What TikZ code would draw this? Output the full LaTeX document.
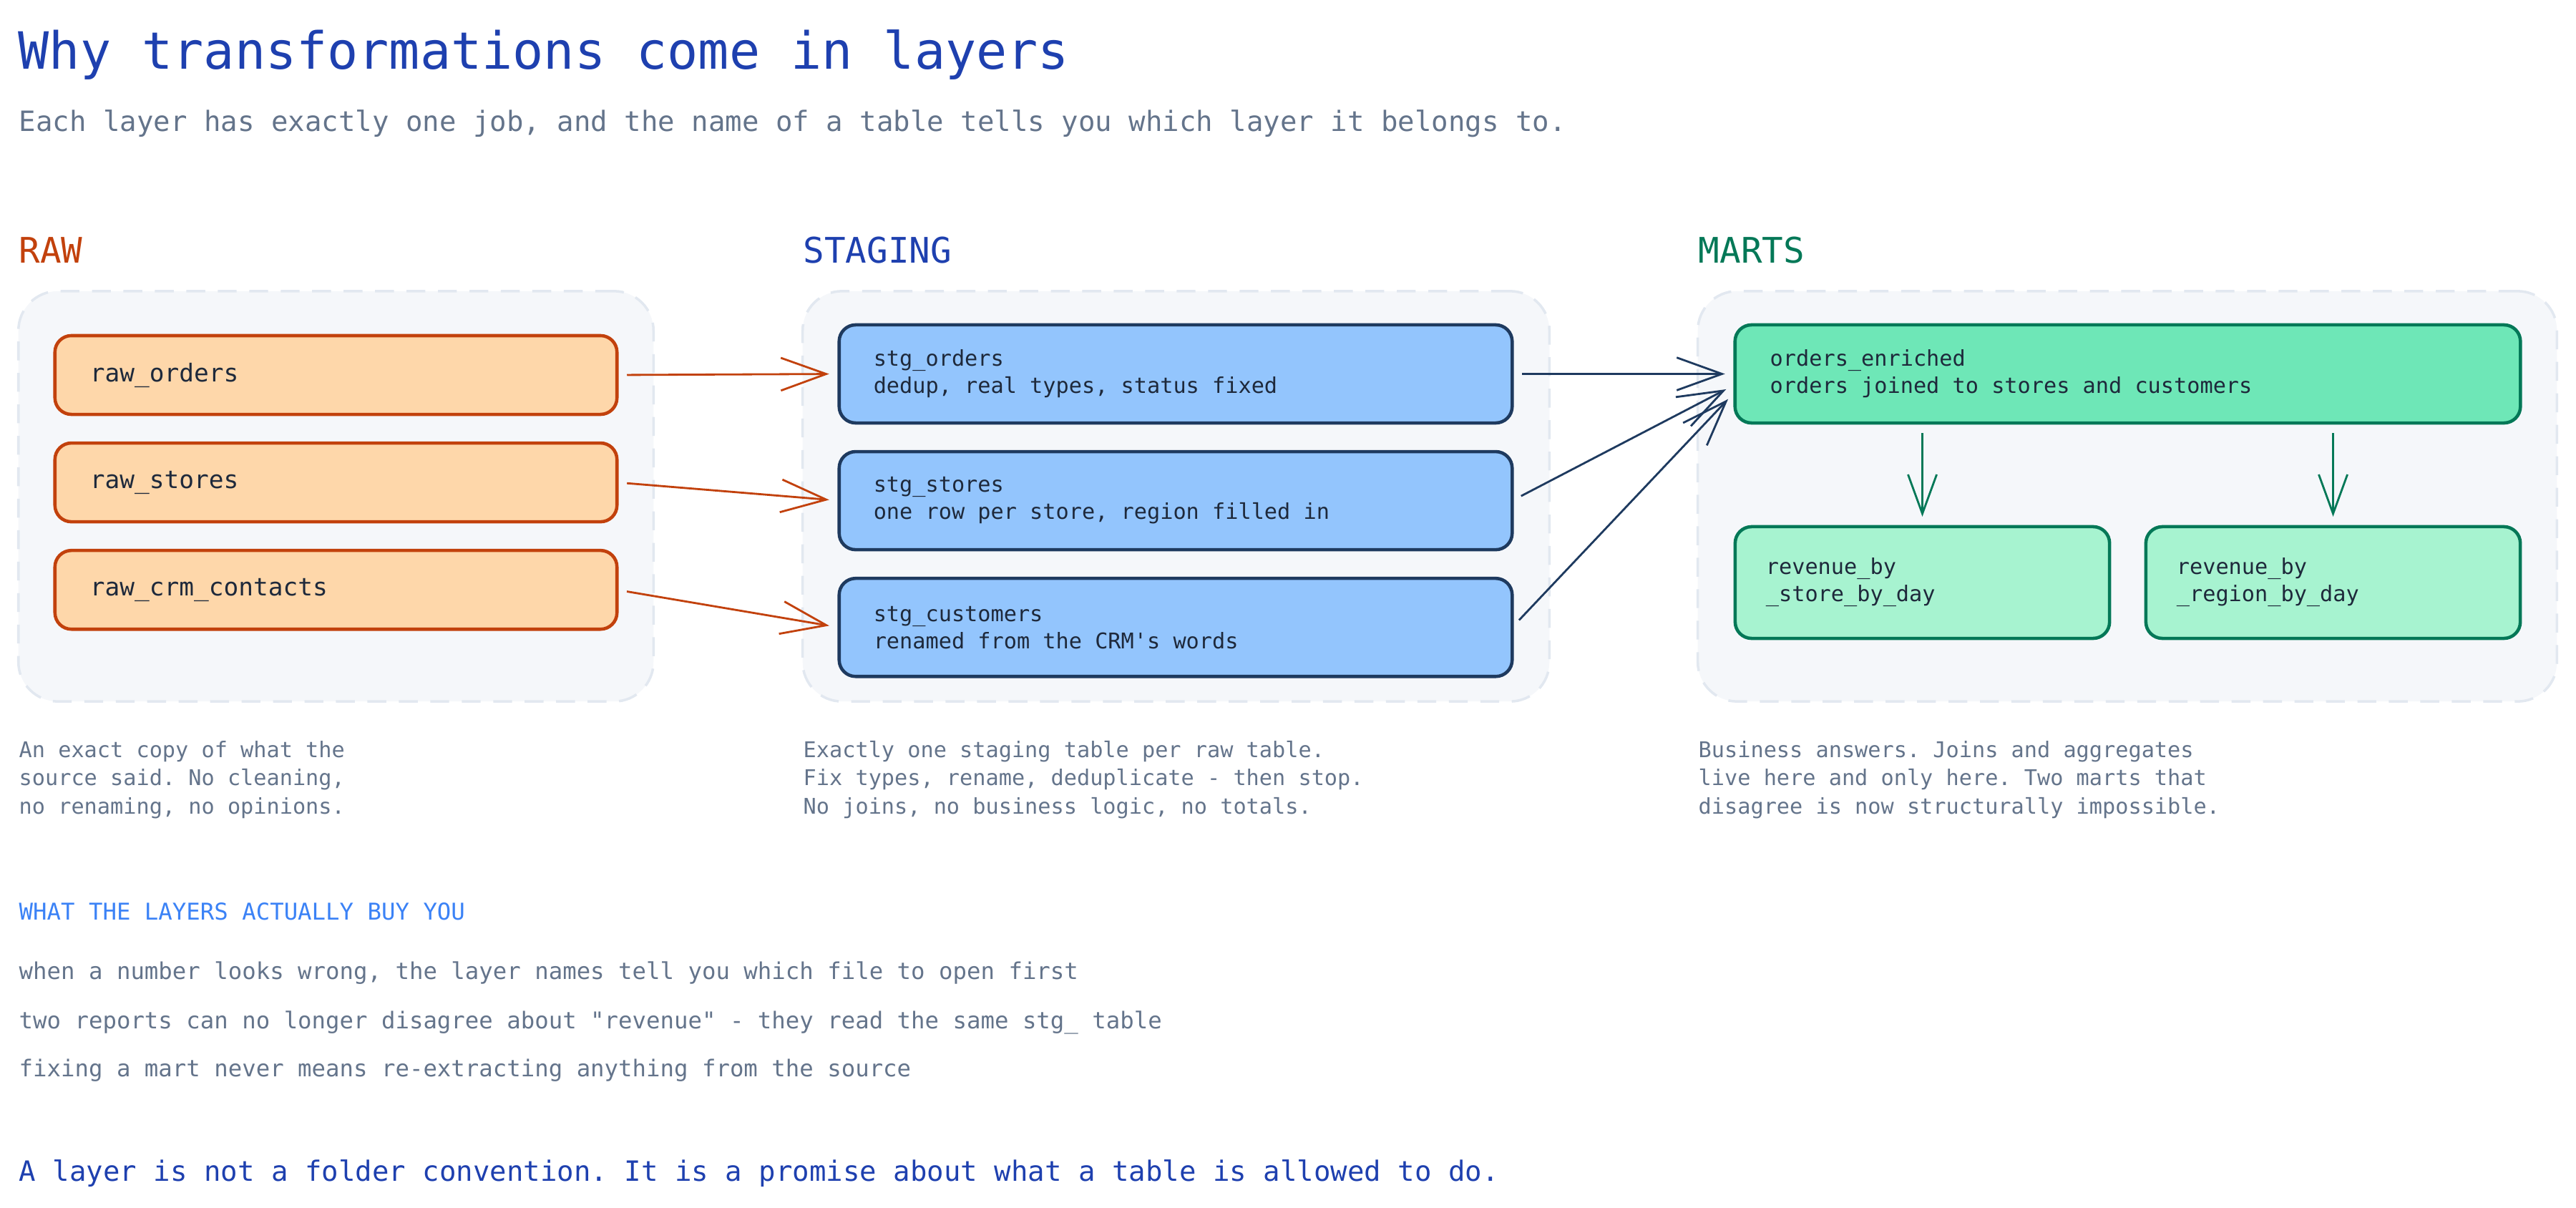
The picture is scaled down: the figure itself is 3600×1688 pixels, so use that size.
\documentclass[tikz,border=0pt]{standalone}
\usepackage{fontspec}
\setmonofont{DejaVu Sans Mono}
\usetikzlibrary{arrows.meta,positioning}
\definecolor{rawfill}{HTML}{FED7AA}
\definecolor{rawline}{HTML}{C2410C}
\definecolor{stgfill}{HTML}{93C5FD}
\definecolor{stgline}{HTML}{1E3A5F}
\definecolor{martfill}{HTML}{6EE7B7}
\definecolor{martpale}{HTML}{A7F3D0}
\definecolor{martline}{HTML}{047857}
\definecolor{grpfill}{HTML}{F5F7FA}
\definecolor{grpline}{HTML}{E2E8F0}
\definecolor{ink}{HTML}{1E293B}
\definecolor{muted}{HTML}{64748B}
\definecolor{deepblue}{HTML}{1E40AF}
\definecolor{brightblue}{HTML}{3B82F6}
\tikzset{
  every node/.style={
    font=\ttfamily
  },
  headline/.style={
    font=\ttfamily\fontsize{20.4}{24}\selectfont,
    text=deepblue
  },
  subline/.style={
    font=\ttfamily\fontsize{11.1}{14}\selectfont,
    text=muted
  },
  layername/.style={
    font=\ttfamily\fontsize{14}{17}\selectfont
  },
  layergroup/.style={
    shape=rectangle,
    draw=grpline,
    fill=grpfill,
    line width=1pt,
    dash pattern=on 7.5pt off 5pt,
    rounded corners=0.55cm,
    minimum width=#1,
    minimum height=5.73cm,
    inner sep=0pt
  },
  rawtable/.style={
    shape=rectangle,
    draw=rawline,
    fill=rawfill,
    line width=1.3pt,
    rounded corners=0.23cm,
    text=ink,
    font=\ttfamily\fontsize{9.8}{12}\selectfont,
    text width=6.87cm,
    align=flush left,
    inner xsep=0.49cm,
    inner ysep=0pt,
    minimum height=1.10cm,
    outer sep=0pt
  },
  stgtable/.style={
    shape=rectangle,
    draw=stgline,
    fill=stgfill,
    line width=1.3pt,
    rounded corners=0.23cm,
    text=ink,
    font=\ttfamily\fontsize{8.6}{10.8}\selectfont,
    text width=8.44cm,
    align=flush left,
    execute at begin node={\spaceskip=0pt\xspaceskip=0pt},
    inner xsep=0.48cm,
    inner ysep=0pt,
    minimum height=1.37cm,
    outer sep=0pt
  },
  marttable/.style={
    shape=rectangle,
    draw=martline,
    line width=1.3pt,
    rounded corners=0.23cm,
    text=ink,
    font=\ttfamily\fontsize{8.6}{10.8}\selectfont,
    align=flush left,
    execute at begin node={\spaceskip=0pt\xspaceskip=0pt},
    inner ysep=0pt,
    outer sep=0pt
  },
  note/.style={
    font=\ttfamily\fontsize{8.6}{11.1}\selectfont,
    text=muted,
    align=left,
    inner sep=0pt
  },
  kicker/.style={
    font=\ttfamily\fontsize{9.2}{11}\selectfont,
    text=brightblue,
    inner sep=0pt
  },
  buyline/.style={
    font=\ttfamily\fontsize{9.2}{11}\selectfont,
    text=muted,
    inner sep=0pt
  },
  promise/.style={
    font=\ttfamily\fontsize{11.1}{14}\selectfont,
    text=deepblue,
    inner sep=0pt
  },
  flow/.style={
    -{Straight Barb[length=18pt,width=13pt]},
    line width=0.8pt,
    shorten <=0.14cm,
    shorten >=0.14cm
  }
}

\begin{document}
\begin{tikzpicture}[x=0.01cm, y=-0.01cm, node distance=0.4cm]
    \useasboundingbox (0,0) rectangle (3600,1688);

    % heading
    \node [headline, anchor=base west, inner sep=0pt] (title) at (25,97)
      {Why transformations come in layers};
    \node [subline, anchor=base west, inner sep=0pt] (subtitle) at (26,183)
      {Each layer has exactly one job, and the name of a table tells you which layer it belongs to.};

    % the three layers
    \node [layergroup=8.87cm] (rawgrp) at (469.5,693.5) {};
    \node [layergroup=10.43cm] (stggrp) at (1643.5,693.5) {};
    \node [layergroup=12cm] (martgrp) at (2973,693.5) {};

    \node [layername, text=rawline, anchor=base west, inner sep=0pt] (rawhead) at (26,367) {RAW};
    \node [layername, text=deepblue, anchor=base west, inner sep=0pt] (stghead) at (1122,367) {STAGING};
    \node [layername, text=martline, anchor=base west, inner sep=0pt] (marthead) at (2373,367) {MARTS};

    % raw
    \node [rawtable] (raworders) at (469.5,524) {raw\_orders};
    \node [rawtable, below=of raworders] (rawstores) {raw\_stores};
    \node [rawtable, below=of rawstores] (rawcrm) {raw\_crm\_contacts};

    % staging
    \node [stgtable] (stgorders) at (1643,522.5)
      {stg\_orders\\dedup, real types, status fixed};
    \node [stgtable, below=of stgorders] (stgstores)
      {stg\_stores\\one row per store, region filled in};
    \node [stgtable, below=of stgstores] (stgcustomers)
      {stg\_customers\\renamed from the CRM's words};

    % marts
    \node [marttable, fill=martfill, text width=9.99cm, inner xsep=0.49cm,
      minimum height=1.37cm] (enriched) at (2973.5,522.5)
      {orders\_enriched\\orders joined to stores and customers};
    \node [marttable, fill=martpale, text width=4.37cm, inner xsep=0.43cm,
      minimum height=1.56cm] (revstore) at (2686.5,814)
      {revenue\_by\\\_store\_by\_day};
    \node [marttable, fill=martpale, text width=4.37cm, inner xsep=0.43cm,
      minimum height=1.56cm] (revregion) at (3260.5,814)
      {revenue\_by\\\_region\_by\_day};

    % raw -> staging
    \draw [flow, rawline] (raworders.east) -- (stgorders.west);
    \draw [flow, rawline] (rawstores.east) -- (stgstores.west);
    \draw [flow, rawline] (rawcrm.east) -- (stgcustomers.west);

    % staging -> marts
    \draw [flow, stgline] (stgorders.east) -- (enriched.west);
    \draw [flow, stgline] (stgstores.east) -- ([yshift=-0.15cm]enriched.west);
    \draw [flow, stgline] (stgcustomers.east) -- ([yshift=-0.25cm]enriched.west);
    \draw [flow, martline, -{Straight Barb[length=15.6pt,width=11.4pt]}]
      (enriched.south -| revstore.north) -- (revstore.north);
    \draw [flow, martline, -{Straight Barb[length=15.6pt,width=11.4pt]}]
      (enriched.south -| revregion.north) -- (revregion.north);

    % what each layer is for
    \node [note, anchor=base west] (rawnote) at (26,1137)
      {An exact copy of what the\\source said. No cleaning,\\no renaming, no opinions.};
    \node [note, anchor=base west] (stgnote) at (1122,1137)
      {Exactly one staging table per raw table.\\Fix types, rename, deduplicate - then stop.\\No joins, no business logic, no totals.};
    \node [note, anchor=base west] (martnote) at (2373,1137)
      {Business answers. Joins and aggregates\\live here and only here. Two marts that\\disagree is now structurally impossible.};

    % payoff
    \node [kicker, anchor=base west] (buyhead) at (26,1285) {WHAT THE LAYERS ACTUALLY BUY YOU};
    \node [buyline, anchor=base west] (buyone) at (26,1368)
      {when a number looks wrong, the layer names tell you which file to open first};
    \node [buyline, anchor=base west] (buytwo) at (26,1437)
      {two reports can no longer disagree about "revenue" - they read the same stg\_ table};
    \node [buyline, anchor=base west] (buythree) at (26,1504)
      {fixing a mart never means re-extracting anything from the source};

    \node [promise, anchor=base west] (promise) at (26,1650)
      {A layer is not a folder convention. It is a promise about what a table is allowed to do.};
\end{tikzpicture}
\end{document}
